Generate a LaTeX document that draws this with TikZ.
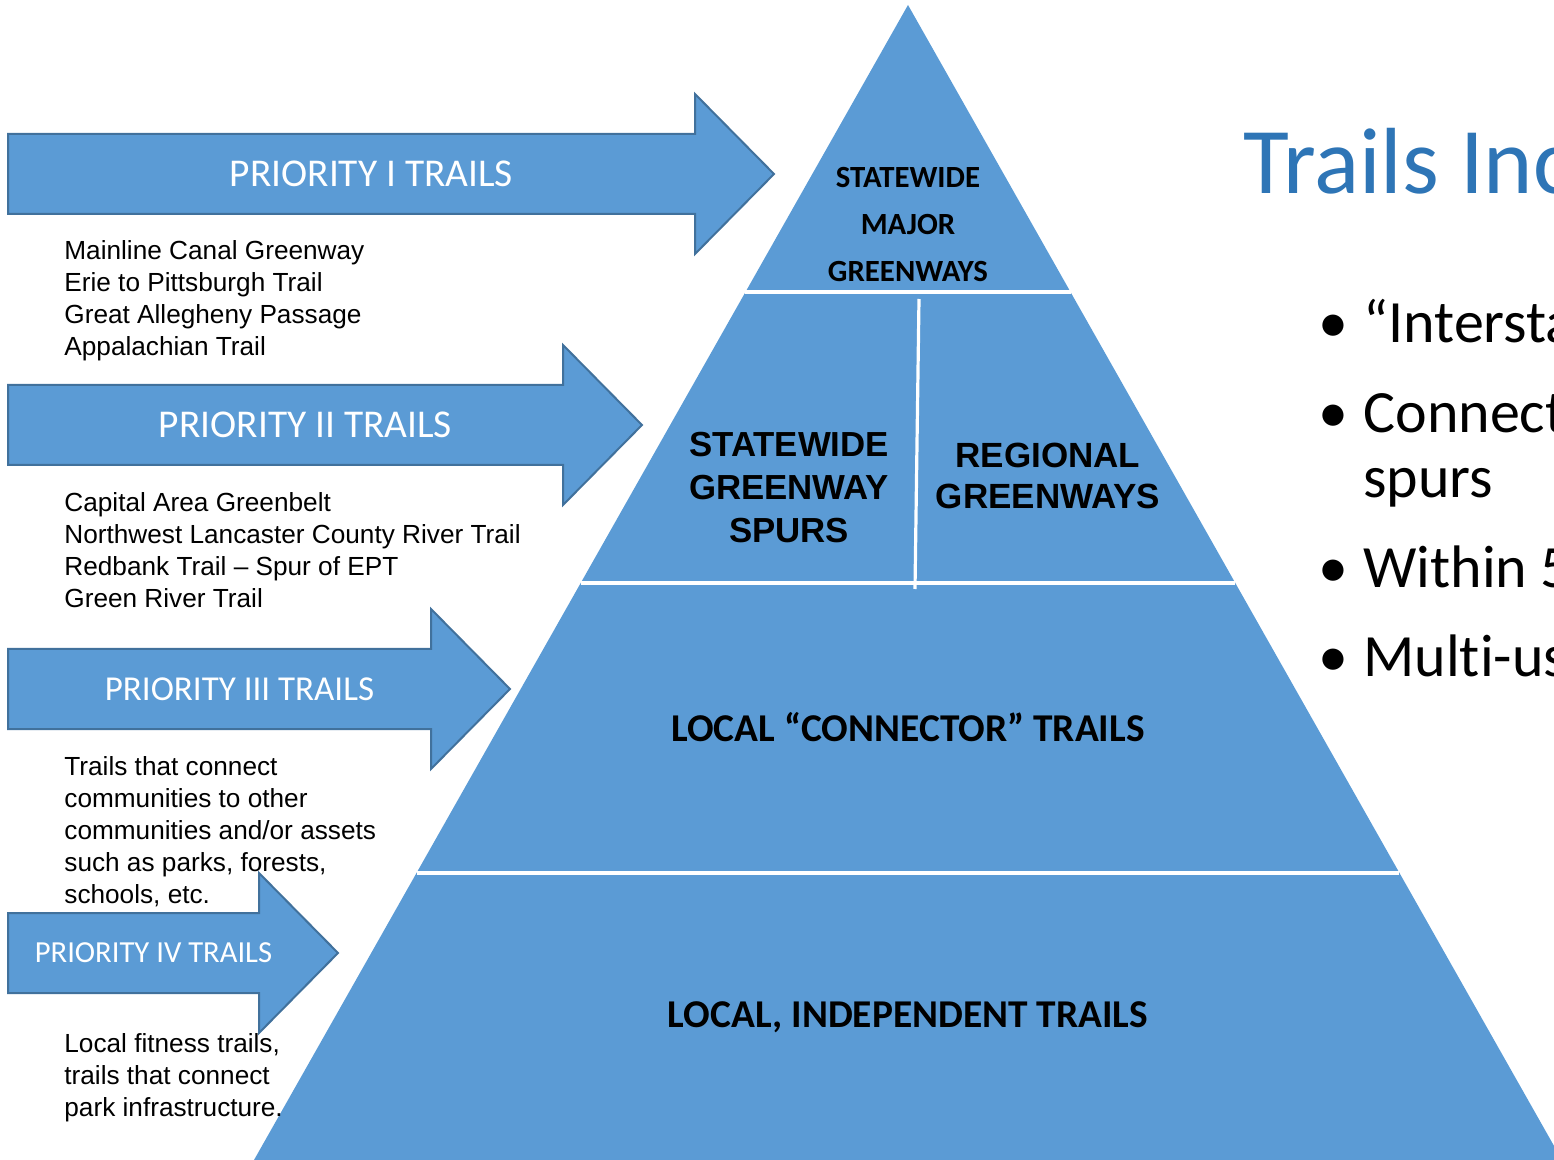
\documentclass[tikz,border=0pt]{standalone}
\usepackage{fontspec}
\setmainfont{Liberation Sans}
\newfontfamily\calibri[Ligatures=NoCommon]{Carlito}
\usetikzlibrary{calc,positioning}
\definecolor{pyrblue}{HTML}{5B9BD5}
\definecolor{pyredge}{HTML}{41719C}
\definecolor{titleblue}{HTML}{2E75B6}

\begin{document}
\begin{tikzpicture}[x=0.5pt,y=-0.5pt,
	arrowbox/.style={fill=pyrblue,draw=pyredge,line width=1pt},
	arrowlabel/.style={text=white,inner sep=0pt,font=\calibri\fontsize{#1}{#1}\selectfont},
	itemlist/.style={anchor=west,align=left,inner sep=0pt,font=\fontsize{13.1}{16}\selectfont},
	divider/.style={draw=white,line width=1.6pt},
	tierlabel/.style={align=center,inner sep=0pt},
	pointtext/.style={anchor=base west,inner sep=0pt,font=\calibri\fontsize{30}{33}\selectfont}]
	\useasboundingbox (0,0) rectangle (1554,1160);
	\clip (0,0) rectangle (1554,1160);

	% pyramid
	\coordinate (apex) at (908,5);
	\coordinate (bl) at (254,1160);
	\coordinate (br) at (1562,1160);
	\fill[pyrblue] (apex) -- (br) -- (bl) -- cycle;
	\foreach \t in {0.2485,0.5004,0.7515}
		\draw[divider] ($(apex)!\t!(bl)$) -- ($(apex)!\t!(br)$);
	\coordinate (splitT) at (919,299);
	\coordinate (splitB) at (915,589);
	\draw[divider] (splitT) -- (splitB);

	\node[tierlabel,font=\calibri\bfseries\fontsize{15.4}{23.5}\selectfont]	(major)	at (908,225)	{STATEWIDE\\MAJOR\\GREENWAYS};
	\node[tierlabel,font=\bfseries\fontsize{17.4}{21.5}\selectfont]			(spurs)	at (789,488)	{STATEWIDE\\GREENWAY\\SPURS};
	\node[tierlabel,font=\bfseries\fontsize{17.5}{20.5}\selectfont]			(region)	at (1048,476)	{REGIONAL\\GREENWAYS};
	\node[tierlabel,font=\calibri\bfseries\fontsize{19.7}{19.7}\selectfont]	(connect)	at (908,727)	{LOCAL “CONNECTOR” TRAILS};
	\node[tierlabel,font=\calibri\bfseries\fontsize{19.7}{19.7}\selectfont]	(indep)	at (908,1017)	{LOCAL, INDEPENDENT TRAILS};

	% priority arrows
	\foreach \yc/\xb/\nm/\fs in {174/695/I/19.7,425/563/II/19.7,689/431/III/17.5,953/259/IV/15.3}{
		\draw[arrowbox] (8,\yc-40) -- (\xb,\yc-40) -- (\xb,\yc-80) -- (\xb+79,\yc) -- (\xb,\yc+80) -- (\xb,\yc+40) -- (8,\yc+40) -- cycle;
		\node[arrowlabel=\fs] (prio\nm) at ({(8+\xb)/2+20},\yc) {PRIORITY \nm\ TRAILS};
	}

	% trail lists
	\node[itemlist] (listI)	at (64,301)	{Mainline Canal Greenway\\Erie to Pittsburgh Trail\\Great Allegheny Passage\\Appalachian Trail};
	\node[itemlist] (listII)	at (64,550)	{Capital Area Greenbelt\\Northwest Lancaster County River Trail\\Redbank Trail -- Spur of EPT\\Green River Trail};
	\node[itemlist] (listIII)	at (64,832)	{Trails that connect\\communities to other\\communities and/or assets\\such as parks, forests,\\schools, etc.};
	\node[itemlist] (listIV)	at (64,1078)	{Local fitness trails,\\trails that connect\\park infrastructure.};

	% title and points
	\node[anchor=base west,inner sep=0pt,text=titleblue,font=\calibri\fontsize{47}{47}\selectfont] (title) at (1243,194) {Trails Inc};
	\foreach \y/\nm/\txt in {343/1/“Intersta,433/2/Connect,588/3/Within 5,676/4/Multi-us}{
		\node[pointtext] (pt\nm) at (1363,\y) {\txt};
		\node[pointtext,anchor=base east] (dot\nm) at (1349,\y) {•};
	}
	\node[pointtext] (spurs2) at (1363,498) {spurs};
\end{tikzpicture}
\end{document}
